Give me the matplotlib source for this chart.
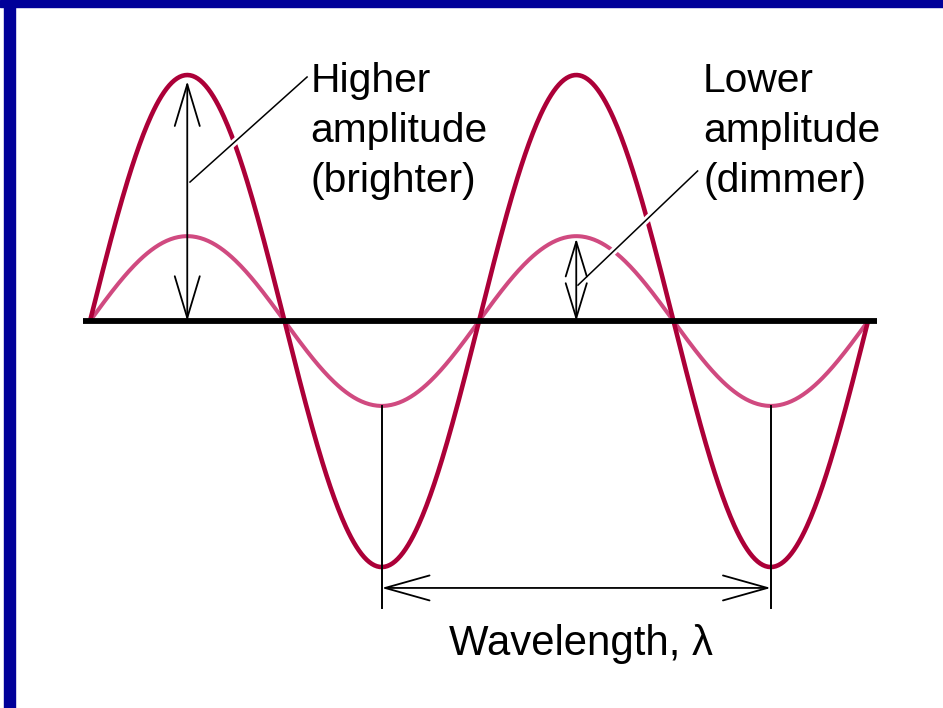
import numpy as np
import matplotlib.pyplot as plt
from matplotlib import patheffects as pe

plt.rcParams['font.family'] = ['Liberation Sans', 'DejaVu Sans']

# Wave parameters (x in wavelengths, y in units of the high amplitude)
n_waves = 2
wavelength = 1.0
amp_high = 1.0
amp_low = 0.345

labels_high = ["Higher", "amplitude", "(brighter)"]
labels_low = ["Lower", "amplitude", "(dimmer)"]
wave_label = "Wavelength, \u03bb"

strong_color = "#AC0038"
weak_color = "#D04A80"

fig = plt.figure(figsize=(9.43, 7.08), dpi=100)
ax = fig.add_axes([0, 0, 1, 1])
ax.set_xlim(-0.2314, 2.1928)
ax.set_ylim(-1.573, 1.305)
ax.axis("off")

# blue frame (top and left)
fig.patches.append(plt.Rectangle((0, 1 - 7 / 708), 1, 7 / 708, transform=fig.transFigure,
                                 color="#000099", zorder=0))
fig.patches.append(plt.Rectangle((4 / 943, 0), 11 / 943, 1, transform=fig.transFigure,
                                 color="#000099", zorder=0))

x = np.linspace(0, n_waves * wavelength, 600)
ax.plot(x, amp_low * np.sin(2 * np.pi * x / wavelength), color=weak_color, lw=2.9,
        solid_capstyle="butt", zorder=2)
ax.plot(x, amp_high * np.sin(2 * np.pi * x / wavelength), color=strong_color, lw=3.3,
        solid_capstyle="butt", zorder=3)

# baseline
ax.plot([-0.018, 2.022], [0, 0], color="black", lw=4.2, solid_capstyle="butt", zorder=4)

halo = [pe.withStroke(linewidth=5, foreground="white")]

# leader lines
ax.plot([0.257, 0.558], [0.565, 0.992], color="black", lw=1.1, zorder=5, path_effects=halo)
ax.plot([1.2545, 1.562], [0.146, 0.61], color="black", lw=1.1, zorder=5, path_effects=halo)

# amplitude arrows
peak1 = 0.25 * wavelength
peak2 = 1.25 * wavelength
ax.annotate("", xy=(peak1, amp_high - 0.025), xytext=(peak1, 0),
            arrowprops=dict(arrowstyle="<->,head_length=1.5,head_width=0.45", color="black",
                            lw=1.3, shrinkA=0, shrinkB=0, mutation_scale=20), zorder=6)
ax.annotate("", xy=(peak2, amp_low - 0.01), xytext=(peak2, 0),
            arrowprops=dict(arrowstyle="<->,head_length=1.25,head_width=0.38", color="black",
                            lw=1.3, shrinkA=0, shrinkB=0, mutation_scale=20), zorder=6)

# wavelength marker
trough1 = 0.75 * wavelength
trough2 = 1.75 * wavelength
for t in (trough1, trough2):
    ax.plot([t, t], [-amp_low, -1.167], color="black", lw=1.4, zorder=5)
ax.annotate("", xy=(trough2, -1.085), xytext=(trough1, -1.085),
            arrowprops=dict(arrowstyle="<->,head_length=1.6,head_width=0.45", color="black",
                            lw=1.3, shrinkA=0, shrinkB=0, mutation_scale=20), zorder=6)

# texts
baselines = [0.93, 0.727, 0.524]
for txt, yb in zip(labels_high, baselines):
    ax.text(0.566, yb, txt, fontsize=29.3, va="baseline", ha="left", color="black")
for txt, yb in zip(labels_low, baselines):
    ax.text(1.576, yb, txt, fontsize=29.3, va="baseline", ha="left", color="black")
ax.text(1.262, -1.358, wave_label, fontsize=30.2, va="baseline", ha="center", color="black")

fig.savefig("out.png", dpi=100)
